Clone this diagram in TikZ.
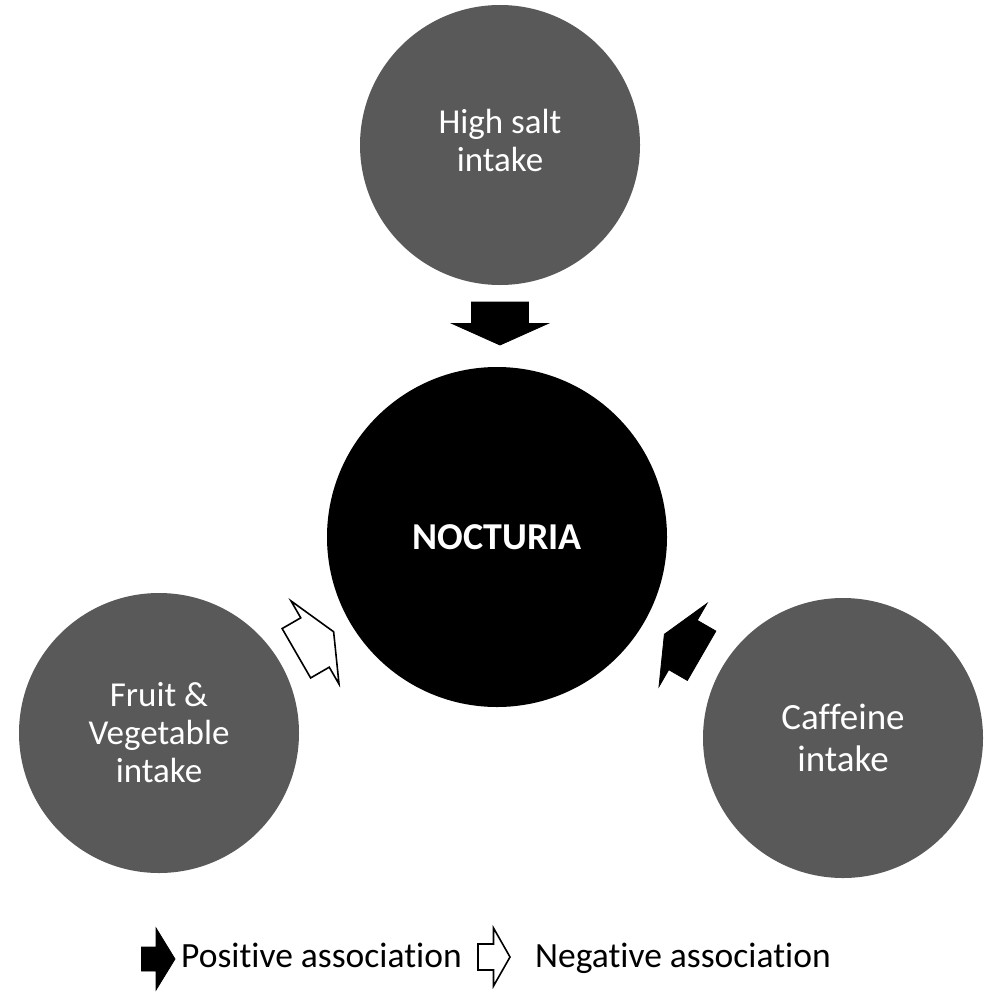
\documentclass[tikz,border=0pt]{standalone}
\usepackage{fontspec}
\setmainfont{Carlito}[Ligatures={NoCommon,NoRare,NoContextual}]
\usetikzlibrary{calc}
\definecolor{cgray}{HTML}{595959}
\begin{document}
\begin{tikzpicture}[x=1pt,y=-1pt,
  factor/.style={circle,fill=cgray,draw=none,minimum size=280pt,inner sep=0pt,
    text=white,align=center,font=\fontsize{35}{38}\selectfont},
  hub/.style={circle,fill=black,draw=none,minimum size=340pt,inner sep=0pt,
    text=white,font=\bfseries\fontsize{38}{42}\selectfont},
  posarrow/.style={fill=black,draw=black,line width=0.8pt,line join=miter},
  negarrow/.style={fill=white,draw=black,line width=1.6pt,line join=miter},
  legtext/.style={anchor=base west,inner sep=0pt,font=\fontsize{35.5}{40}\selectfont}]
\useasboundingbox[fill=white] (0,0) rectangle (1000,998);
\node[factor] (salt) at (500,145) {};
\node[text=white,align=center,font=\fontsize{35}{38}\selectfont] (saltt) at ($(salt.center)+(0,-5)$) {High salt\\intake};
\node[hub] (noc) at (497,537) {NOCTURIA};
\node[factor] (fv) at (159,733) {Fruit \&\\Vegetable\\intake};
\node[factor,font=\fontsize{37}{42}\selectfont] (caf) at (843,738) {Caffeine\\intake};
% midpoints of the gaps
\coordinate (m1) at ($(salt.south)!0.5!(noc.north)+(1.5,-2.5)$);
\coordinate (m2) at ($(fv.30)!0.5!(noc.210)$);
\coordinate (m3) at ($(caf.150)!0.5!(noc.330)$);
\draw[posarrow,shift={(m1)},rotate=-90]
  (-21.5,-28.5) -- (0,-28.5) -- (0,-48) -- (21.5,0) -- (0,48) -- (0,28.5) -- (-21.5,28.5) -- cycle;
\draw[negarrow,shift={(m2)},rotate=30]
  (-21.5,-28.5) -- (0,-28.5) -- (0,-48) -- (21.5,0) -- (0,48) -- (0,28.5) -- (-21.5,28.5) -- cycle;
\draw[posarrow,shift={(m3)},rotate=150]
  (-21.5,-28.5) -- (0,-28.5) -- (0,-48) -- (21.5,0) -- (0,48) -- (0,28.5) -- (-21.5,28.5) -- cycle;
% legend
\coordinate (lp) at (156,959);
\coordinate (ln) at (493.5,957);
\draw[posarrow,shift={(lp)}]
  (-14.5,-12) -- (0,-12) -- (0,-31) -- (19,0) -- (0,31) -- (0,12) -- (-14.5,12) -- cycle;
\draw[negarrow,shift={(ln)}]
  (-15.5,-13) -- (0,-13) -- (0,-29) -- (16.5,0) -- (0,29) -- (0,13) -- (-15.5,13) -- cycle;
\node[legtext] (lpt) at (181,967) {Positive association};
\node[legtext] (lnt) at (535,967) {Negative association};
\end{tikzpicture}
\end{document}
